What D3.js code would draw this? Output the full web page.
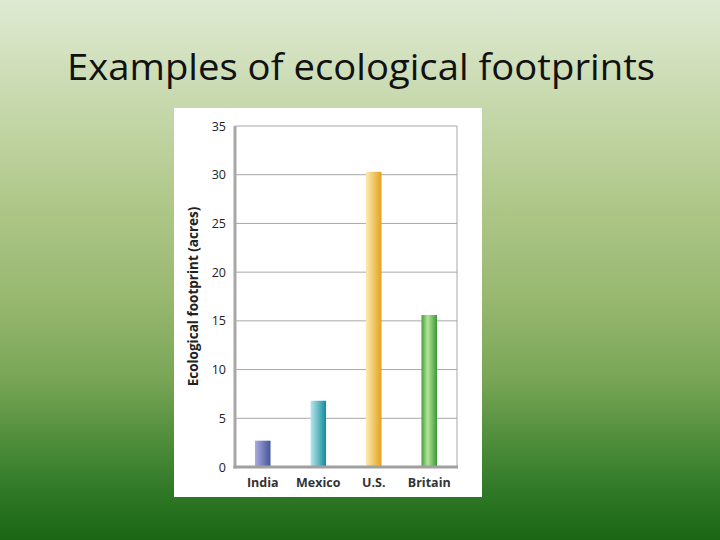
<!DOCTYPE html>
<html><head><meta charset="utf-8">
<script src="https://cdn.jsdelivr.net/npm/d3@7"></script>
<style>html,body{margin:0;padding:0;width:720px;height:540px;overflow:hidden;}</style>
</head><body>
<script>
const categories = ["India", "Mexico", "U.S.", "Britain"];
const values = [2.7, 6.8, 30.3, 15.6];
const yTicks = [0, 5, 10, 15, 20, 25, 30, 35];
const titleText = "Examples of ecological footprints";
const yTitle = "Ecological footprint (acres)";
const barStops = [
  [["0%","#a9acdf"],["100%","#45549a"]],
  [["0%","#bfe6ee"],["100%","#0f8c9c"]],
  [["0%","#fdeab0"],["100%","#e2a21e"]],
  [["0%","#44a03c"],["40%","#b4e49c"],["100%","#3a9834"]]
];

const W = 720, H = 540;
const svg = d3.select("body").append("svg").attr("width", W).attr("height", H);
const defs = svg.append("defs");
const bg = defs.append("linearGradient").attr("id","bg").attr("x1",0).attr("y1",0).attr("x2",0).attr("y2",1);
[["0%","#dfead2"],["37%","#b0c88a"],["55%","#98b870"],["70%","#79a656"],["83%","#4a8a38"],["93%","#2a7422"],["100%","#1a6614"]]
  .forEach(s => bg.append("stop").attr("offset", s[0]).attr("stop-color", s[1]));
svg.append("rect").attr("width", W).attr("height", H).attr("fill", "url(#bg)");

svg.append("text").attr("x", 361).attr("y", 80).attr("text-anchor", "middle")
  .attr("font-family", "'Open Sans', sans-serif").attr("font-size", 37)
  .attr("textLength", 588).attr("lengthAdjust", "spacingAndGlyphs")
  .attr("fill", "#111").text(titleText);

// white panel
svg.append("rect").attr("x", 174).attr("y", 108).attr("width", 308).attr("height", 389).attr("fill", "#fff");

const x = d3.scaleBand().domain(categories).range([235, 457]).padding(0);
const y = d3.scaleLinear().domain([0, 35]).range([467, 126]);

// gridlines
svg.append("g").selectAll("line").data(yTicks.filter(t => t > 0)).join("line")
  .attr("x1", 235).attr("x2", 457).attr("y1", d => y(d)).attr("y2", d => y(d))
  .attr("stroke", "#a8a8a8").attr("stroke-width", 1);
// right border
svg.append("line").attr("x1", 457).attr("x2", 457).attr("y1", y(35)).attr("y2", y(0))
  .attr("stroke", "#a8a8a8").attr("stroke-width", 1);

barStops.forEach((st, i) => {
  const g = defs.append("linearGradient").attr("id", "b" + i).attr("x1", 0).attr("x2", 1).attr("y1", 0).attr("y2", 0);
  st.forEach(s => g.append("stop").attr("offset", s[0]).attr("stop-color", s[1]));
});

const bw = x.bandwidth() * 0.28;
svg.append("g").selectAll("rect").data(values).join("rect")
  .attr("x", (d, i) => x(categories[i]) + x.bandwidth() / 2 - bw / 2)
  .attr("width", bw)
  .attr("y", d => y(d)).attr("height", d => y(0) - y(d))
  .attr("fill", (d, i) => "url(#b" + i + ")");

// left axis line and bottom axis line
svg.append("line").attr("x1", 235).attr("x2", 235).attr("y1", y(35)).attr("y2", y(0) + 1.5)
  .attr("stroke", "#a8a8a8").attr("stroke-width", 3);
svg.append("line").attr("x1", 233.5).attr("x2", 458).attr("y1", y(0)).attr("y2", y(0))
  .attr("stroke", "#a0a0a0").attr("stroke-width", 3);

// y tick labels
svg.append("g").selectAll("text").data(yTicks).join("text")
  .attr("x", 226).attr("y", d => y(d) + 4.5).attr("text-anchor", "end")
  .attr("font-family", "'Open Sans', sans-serif").attr("font-size", 12.5)
  .attr("fill", "#222").text(d => d);

// category labels
svg.append("g").selectAll("text").data(categories).join("text")
  .attr("x", d => x(d) + x.bandwidth() / 2).attr("y", 487).attr("text-anchor", "middle")
  .attr("font-family", "'Open Sans', sans-serif").attr("font-size", 12.5).attr("font-weight", "bold")
  .attr("fill", "#333").text(d => d);

// y title
svg.append("text").attr("transform", "translate(198," + ((y(0) + y(35)) / 2) + ") rotate(-90)")
  .attr("text-anchor", "middle")
  .attr("font-family", "'Open Sans', sans-serif").attr("font-size", 13.5).attr("font-weight", "bold")
  .attr("fill", "#222").text(yTitle);
</script>
</body></html>
